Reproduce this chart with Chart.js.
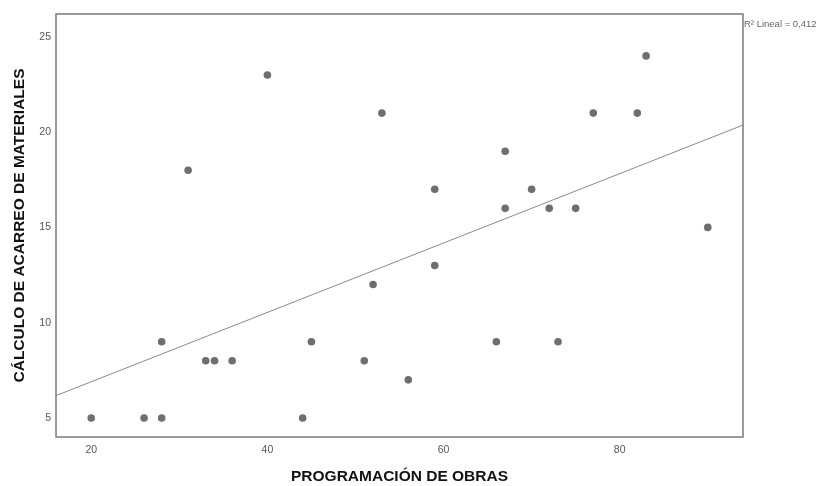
<!DOCTYPE html>
<html>
<head>
<meta charset="utf-8">
<script src="https://cdn.jsdelivr.net/npm/chart.js@4/dist/chart.umd.min.js"></script>
<style>
  html, body { margin: 0; padding: 0; background: #fff; }
  #wrap { width: 825px; height: 486px; position: relative; }
</style>
</head>
<body>
<div id="wrap"><canvas id="c" width="825" height="486"></canvas></div>
<script>
// Observed pairs: programación de obras (x) vs cálculo de acarreo (y)
const programacion = [20, 26, 28, 28, 31, 33, 34, 36, 40, 44, 45, 51, 52, 53, 56, 59, 59, 66, 67, 67, 70, 72, 73, 75, 77, 82, 83, 90];
const acarreo      = [ 5,  5,  5,  9, 18,  8,  8,  8, 23,  5,  9,  8, 12, 21,  7, 17, 13,  9, 19, 16, 17, 16,  9, 16, 21, 21, 24, 15];

// Linear fit line endpoints (across the x range of the plot)
const fitX = [16, 94];
const fitY = [6.17, 20.37];

// Axis ticks
const xTicks = [20, 40, 60, 80];
const yTicks = [5, 10, 15, 20, 25];

const r2Label = 'R² Lineal = 0,412';

const points = programacion.map((x, i) => ({ x: x, y: acarreo[i] }));
const fitLine = fitX.map((x, i) => ({ x: x, y: fitY[i] }));

// Frame around the plot area plus the R² annotation
const framePlugin = {
  id: 'frame',
  afterDraw(chart) {
    const { ctx, chartArea: a } = chart;
    ctx.save();
    ctx.strokeStyle = '#7a7a7a';
    ctx.lineWidth = 1.5;
    ctx.strokeRect(a.left, a.top, a.right - a.left, a.bottom - a.top);
    ctx.fillStyle = '#666';
    ctx.font = '9.5px "Liberation Sans", Arial, sans-serif';
    ctx.textBaseline = 'middle';
    ctx.textAlign = 'left';
    ctx.fillText(r2Label, a.right + 1, a.top + 10);
    ctx.restore();
  }
};

new Chart(document.getElementById('c'), {
  type: 'scatter',
  data: {
    datasets: [
      {
        type: 'line',
        data: fitLine,
        borderColor: '#8a8a8a',
        borderWidth: 1,
        pointRadius: 0,
        fill: false,
        order: 2
      },
      {
        data: points,
        backgroundColor: '#6e6e6e',
        borderColor: '#6e6e6e',
        borderWidth: 0,
        pointRadius: 3.8,
        order: 1
      }
    ]
  },
  options: {
    responsive: false,
    animation: false,
    layout: { padding: { left: 0, right: 82, top: 14, bottom: 0 } },
    plugins: { legend: { display: false }, tooltip: { enabled: false } },
    scales: {
      x: {
        type: 'linear',
        min: 16,
        max: 94,
        afterBuildTicks(scale) { scale.ticks = xTicks.map(v => ({ value: v })); },
        afterFit(scale) { scale.height = 49; },
        grid: { display: false, drawTicks: false },
        border: { display: false },
        ticks: {
          color: '#555',
          font: { family: '"Liberation Sans", Arial, sans-serif', size: 10.5 },
          padding: 7
        },
        title: {
          display: true,
          text: 'PROGRAMACIÓN DE OBRAS',
          color: '#111',
          font: { family: '"Liberation Sans", Arial, sans-serif', size: 15.5, weight: 'bold' },
          padding: { top: 12, bottom: 0 }
        }
      },
      y: {
        type: 'linear',
        min: 4.0,
        max: 26.2,
        afterBuildTicks(scale) { scale.ticks = yTicks.map(v => ({ value: v })); },
        afterFit(scale) { scale.width = 56; },
        grid: { display: false, drawTicks: false },
        border: { display: false },
        ticks: {
          color: '#555',
          font: { family: '"Liberation Sans", Arial, sans-serif', size: 10.5 },
          padding: 5
        },
        title: {
          display: true,
          text: 'CÁLCULO DE ACARREO DE MATERIALES',
          color: '#111',
          font: { family: '"Liberation Sans", Arial, sans-serif', size: 15.5, weight: 'bold' },
          padding: { top: 10, bottom: 0 }
        }
      }
    }
  },
  plugins: [framePlugin]
});
</script>
</body>
</html>
